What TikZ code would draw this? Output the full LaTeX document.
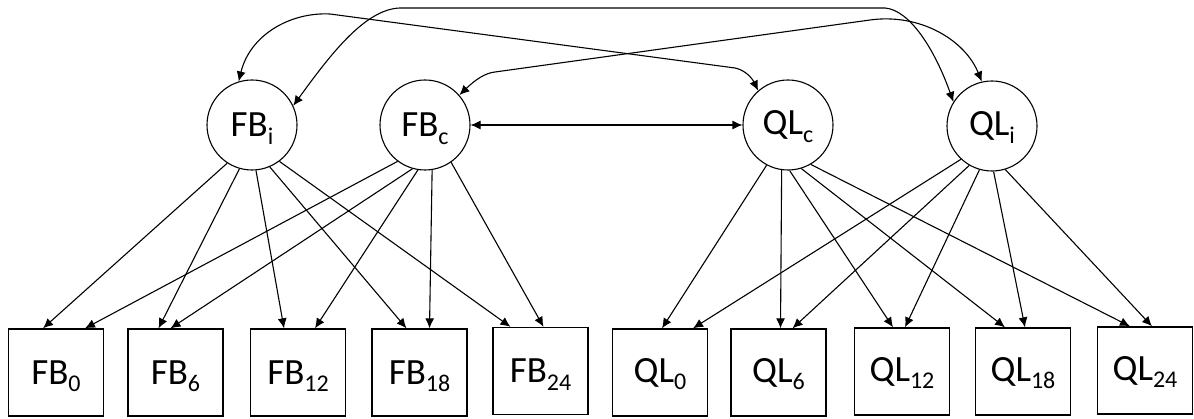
\documentclass[tikz,border=0pt]{standalone}
\usepackage{fontspec}
\setmainfont{Carlito}
\usetikzlibrary{arrows.meta}
\newcommand{\lsub}[1]{\raisebox{-7.5pt}[0pt][0pt]{\fontsize{24}{24}\selectfont #1}}
\begin{document}
\begin{tikzpicture}[x=1pt,y=-1pt,
  lat/.style={circle,draw,line width=1.1pt,minimum size=90pt,inner sep=0pt,font=\fontsize{37}{40}\selectfont},
  obs/.style={rectangle,draw,line width=1.3pt,minimum width=95pt,minimum height=87pt,inner sep=0pt,font=\fontsize{37}{40}\selectfont},
  arr/.style={line width=1.1pt,-{Latex[length=10pt,width=9pt]}},
  darr/.style={line width=1.1pt,{Latex[length=10pt,width=9pt]}-{Latex[length=10pt,width=9pt]}}]
\useasboundingbox (0,0) rectangle (1194,419);

% latent factors
\node[lat] (FBi) at (252,125) {FB\lsub{i}};
\node[lat] (FBc) at (425,125) {FB\lsub{c}};
\node[lat] (QLc) at (788,125) {QL\lsub{c}};
\node[lat] (QLi) at (992,126) {QL\lsub{i}};

% observed
\node[obs] (FB0)  at (56,372.5)   {FB\lsub{0}};
\node[obs] (FB6)  at (175.5,372.5) {FB\lsub{6}};
\node[obs] (FB12) at (298,372.5)  {FB\lsub{12}};
\node[obs] (FB18) at (419.5,372.5) {FB\lsub{18}};
\node[obs] (FB24) at (540.5,371)  {FB\lsub{24}};
\node[obs] (QL0)  at (660,372.5)  {QL\lsub{0}};
\node[obs] (QL6)  at (778.5,372.5) {QL\lsub{6}};
\node[obs] (QL12) at (902,371.5)  {QL\lsub{12}};
\node[obs] (QL18) at (1023,371.5) {QL\lsub{18}};
\node[obs] (QL24) at (1145,370.5) {QL\lsub{24}};

% loadings FB
\draw[arr] (FBi.237) -- ([xshift=-13pt]FB0.north);
\draw[arr] (FBi.254) -- ([xshift=-17pt]FB6.north);
\draw[arr] (FBi.275) -- ([xshift=-14pt]FB12.north);
\draw[arr] (FBi.293) -- ([xshift=-13pt]FB18.north);
\draw[arr] (FBi.307) -- ([xshift=-30pt]FB24.north);
\draw[arr] (FBc.233) -- ([xshift=29pt]FB0.north);
\draw[arr] (FBc.254) -- ([xshift=-5pt]FB6.north);
\draw[arr] (FBc.261) -- ([xshift=17pt]FB12.north);
\draw[arr] (FBc.279) -- ([xshift=10pt]FB18.north);
\draw[arr] (FBc.305) -- ([xshift=3pt]FB24.north);

% loadings QL
\draw[arr] (QLc.242) -- ([xshift=2pt]QL0.north);
\draw[arr] (QLc.262) -- ([xshift=2pt]QL6.north);
\draw[arr] (QLc.272) -- ([xshift=-9pt]QL12.north);
\draw[arr] (QLc.287) -- ([xshift=-18pt]QL18.north);
\draw[arr] (QLc.300) -- ([xshift=-15pt]QL24.north);
\draw[arr] (QLi.227) -- ([xshift=33pt]QL0.north);
\draw[arr] (QLi.240) -- ([xshift=14pt]QL6.north);
\draw[arr] (QLi.254) -- ([xshift=3pt]QL12.north);
\draw[arr] (QLi.272) -- ([xshift=2pt]QL18.north);
\draw[arr] (QLi.287) -- ([xshift=7pt]QL24.north);

% covariances
\draw[darr] (FBc) -- (QLc);
\draw[darr] (FBi.107) .. controls (250,35) and (290,12) .. (330,14) -- (735,68) .. controls (745,70) and (752,78) .. (QLc.131);
\draw[darr] (FBi.25) .. controls (330,55) and (365,9) .. (400,8) -- (885,8) .. controls (910,10) and (935,50) .. (QLi.148);
\draw[darr] (FBc.41) .. controls (475,80) and (485,73) .. (495,72) -- (870,20) .. controls (920,13) and (965,40) .. (QLi.103);
\end{tikzpicture}
\end{document}
